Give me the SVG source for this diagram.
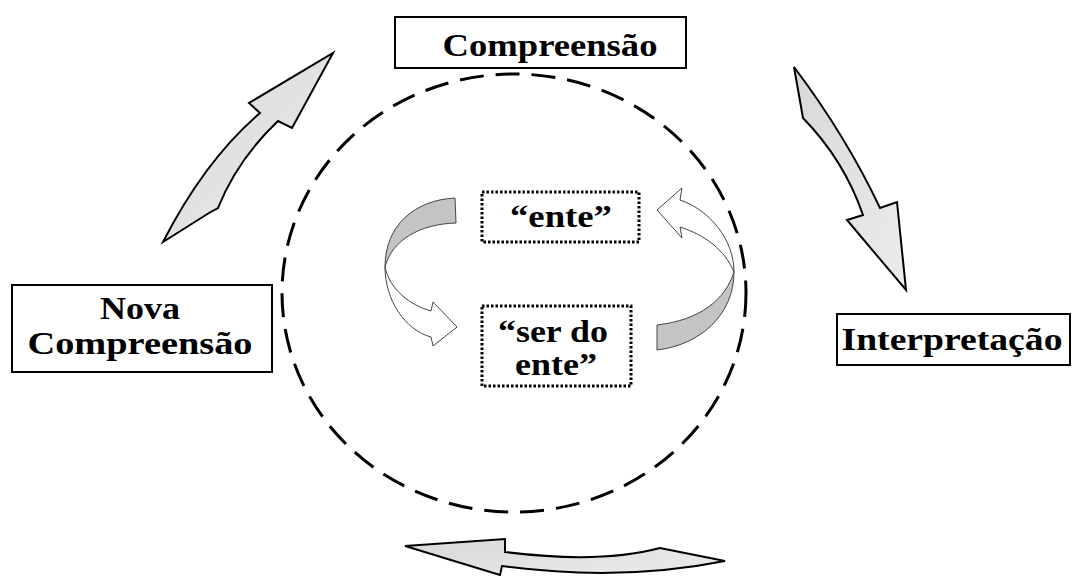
<svg xmlns="http://www.w3.org/2000/svg" width="1072" height="576" viewBox="0 0 1072 576">
<style>
.box{fill:#fff;stroke:#000;stroke-width:2}
.dbox{fill:#fff;stroke:#000;stroke-width:3;stroke-dasharray:2.5 2}
.t{font-family:"Liberation Serif",serif;font-weight:bold;fill:#000;text-anchor:middle}
.big{fill:url(#g);stroke:#000;stroke-width:2;stroke-linejoin:miter}
.rib{stroke:#444;stroke-width:1}
</style>
<defs>
<linearGradient id="g" x1="0" y1="0" x2="1" y2="1">
<stop offset="0" stop-color="#d8d8d8"/>
<stop offset="1" stop-color="#ececec"/>
</linearGradient>
</defs>
<rect width="1072" height="576" fill="#fff"/>
<g id="cycle">
<ellipse cx="514" cy="293" rx="232" ry="219" fill="none" stroke="#000" stroke-width="3" stroke-dasharray="24 12"/>
</g>
<g id="connectors">
<path class="big" d="M163,242 L209,213 L218,208 Q237,160 278,121 L292,128 L333,53 L249,103 L260,113 Q205,160 163,242 Z"/>
<path class="big" d="M794,67 L803,118 Q844,160 863,215 L847,220 L906,290 L897,202 L880,208 Q846,136 794,67 Z"/>
<path class="big" d="M405,546 L505,539 L505,552 Q600,564 660,548 L725,561 Q620,582 502,566 L500,575 Z"/>
<path class="rib" fill="#c4c4c4" d="M455,198 L456,223 C420,224 392,240 385,267 C385,225 415,200 455,198 Z"/>
<path class="rib" fill="#fff" d="M385,267 C385,300 405,330 431,337 L433,346 L457,327 L433,302 L431,311 C410,305 390,290 385,267 Z"/>
<path class="rib" fill="#c4c4c4" d="M657,325 L657,350 C700,345 734,315 734,272 C725,300 700,320 657,325 Z"/>
<path class="rib" fill="#fff" d="M734,272 C734,240 710,210 680,200 L682,188 L657,210 L682,238 L680,227 C705,235 725,250 734,272 Z"/>
</g>
<g id="compreensao">
<rect class="box" x="395" y="17" width="291" height="51"/>
<text class="t" x="550" y="56" font-size="32" textLength="215" lengthAdjust="spacingAndGlyphs">Compreensão</text>
</g>
<g id="nova-compreensao">
<rect class="box" x="12" y="285" width="260" height="87"/>
<text class="t" x="140" y="319" font-size="32" textLength="80" lengthAdjust="spacingAndGlyphs">Nova</text>
<text class="t" x="140" y="354" font-size="32" textLength="225" lengthAdjust="spacingAndGlyphs">Compreensão</text>
</g>
<g id="interpretacao">
<rect class="box" x="837" y="314" width="233" height="51"/>
<text class="t" x="952" y="350" font-size="31" textLength="221" lengthAdjust="spacingAndGlyphs">Interpretação</text>
</g>
<g id="ente">
<rect class="dbox" x="482" y="192" width="157" height="50"/>
<text class="t" x="561" y="227" font-size="31" textLength="102" lengthAdjust="spacingAndGlyphs">“ente”</text>
</g>
<g id="ser-do-ente">
<rect class="dbox" x="482" y="306" width="149" height="80"/>
<text class="t" x="553" y="342" font-size="31" textLength="110" lengthAdjust="spacingAndGlyphs">“ser do</text>
<text class="t" x="556" y="375" font-size="31" textLength="82" lengthAdjust="spacingAndGlyphs">ente”</text>
</g>
</svg>
